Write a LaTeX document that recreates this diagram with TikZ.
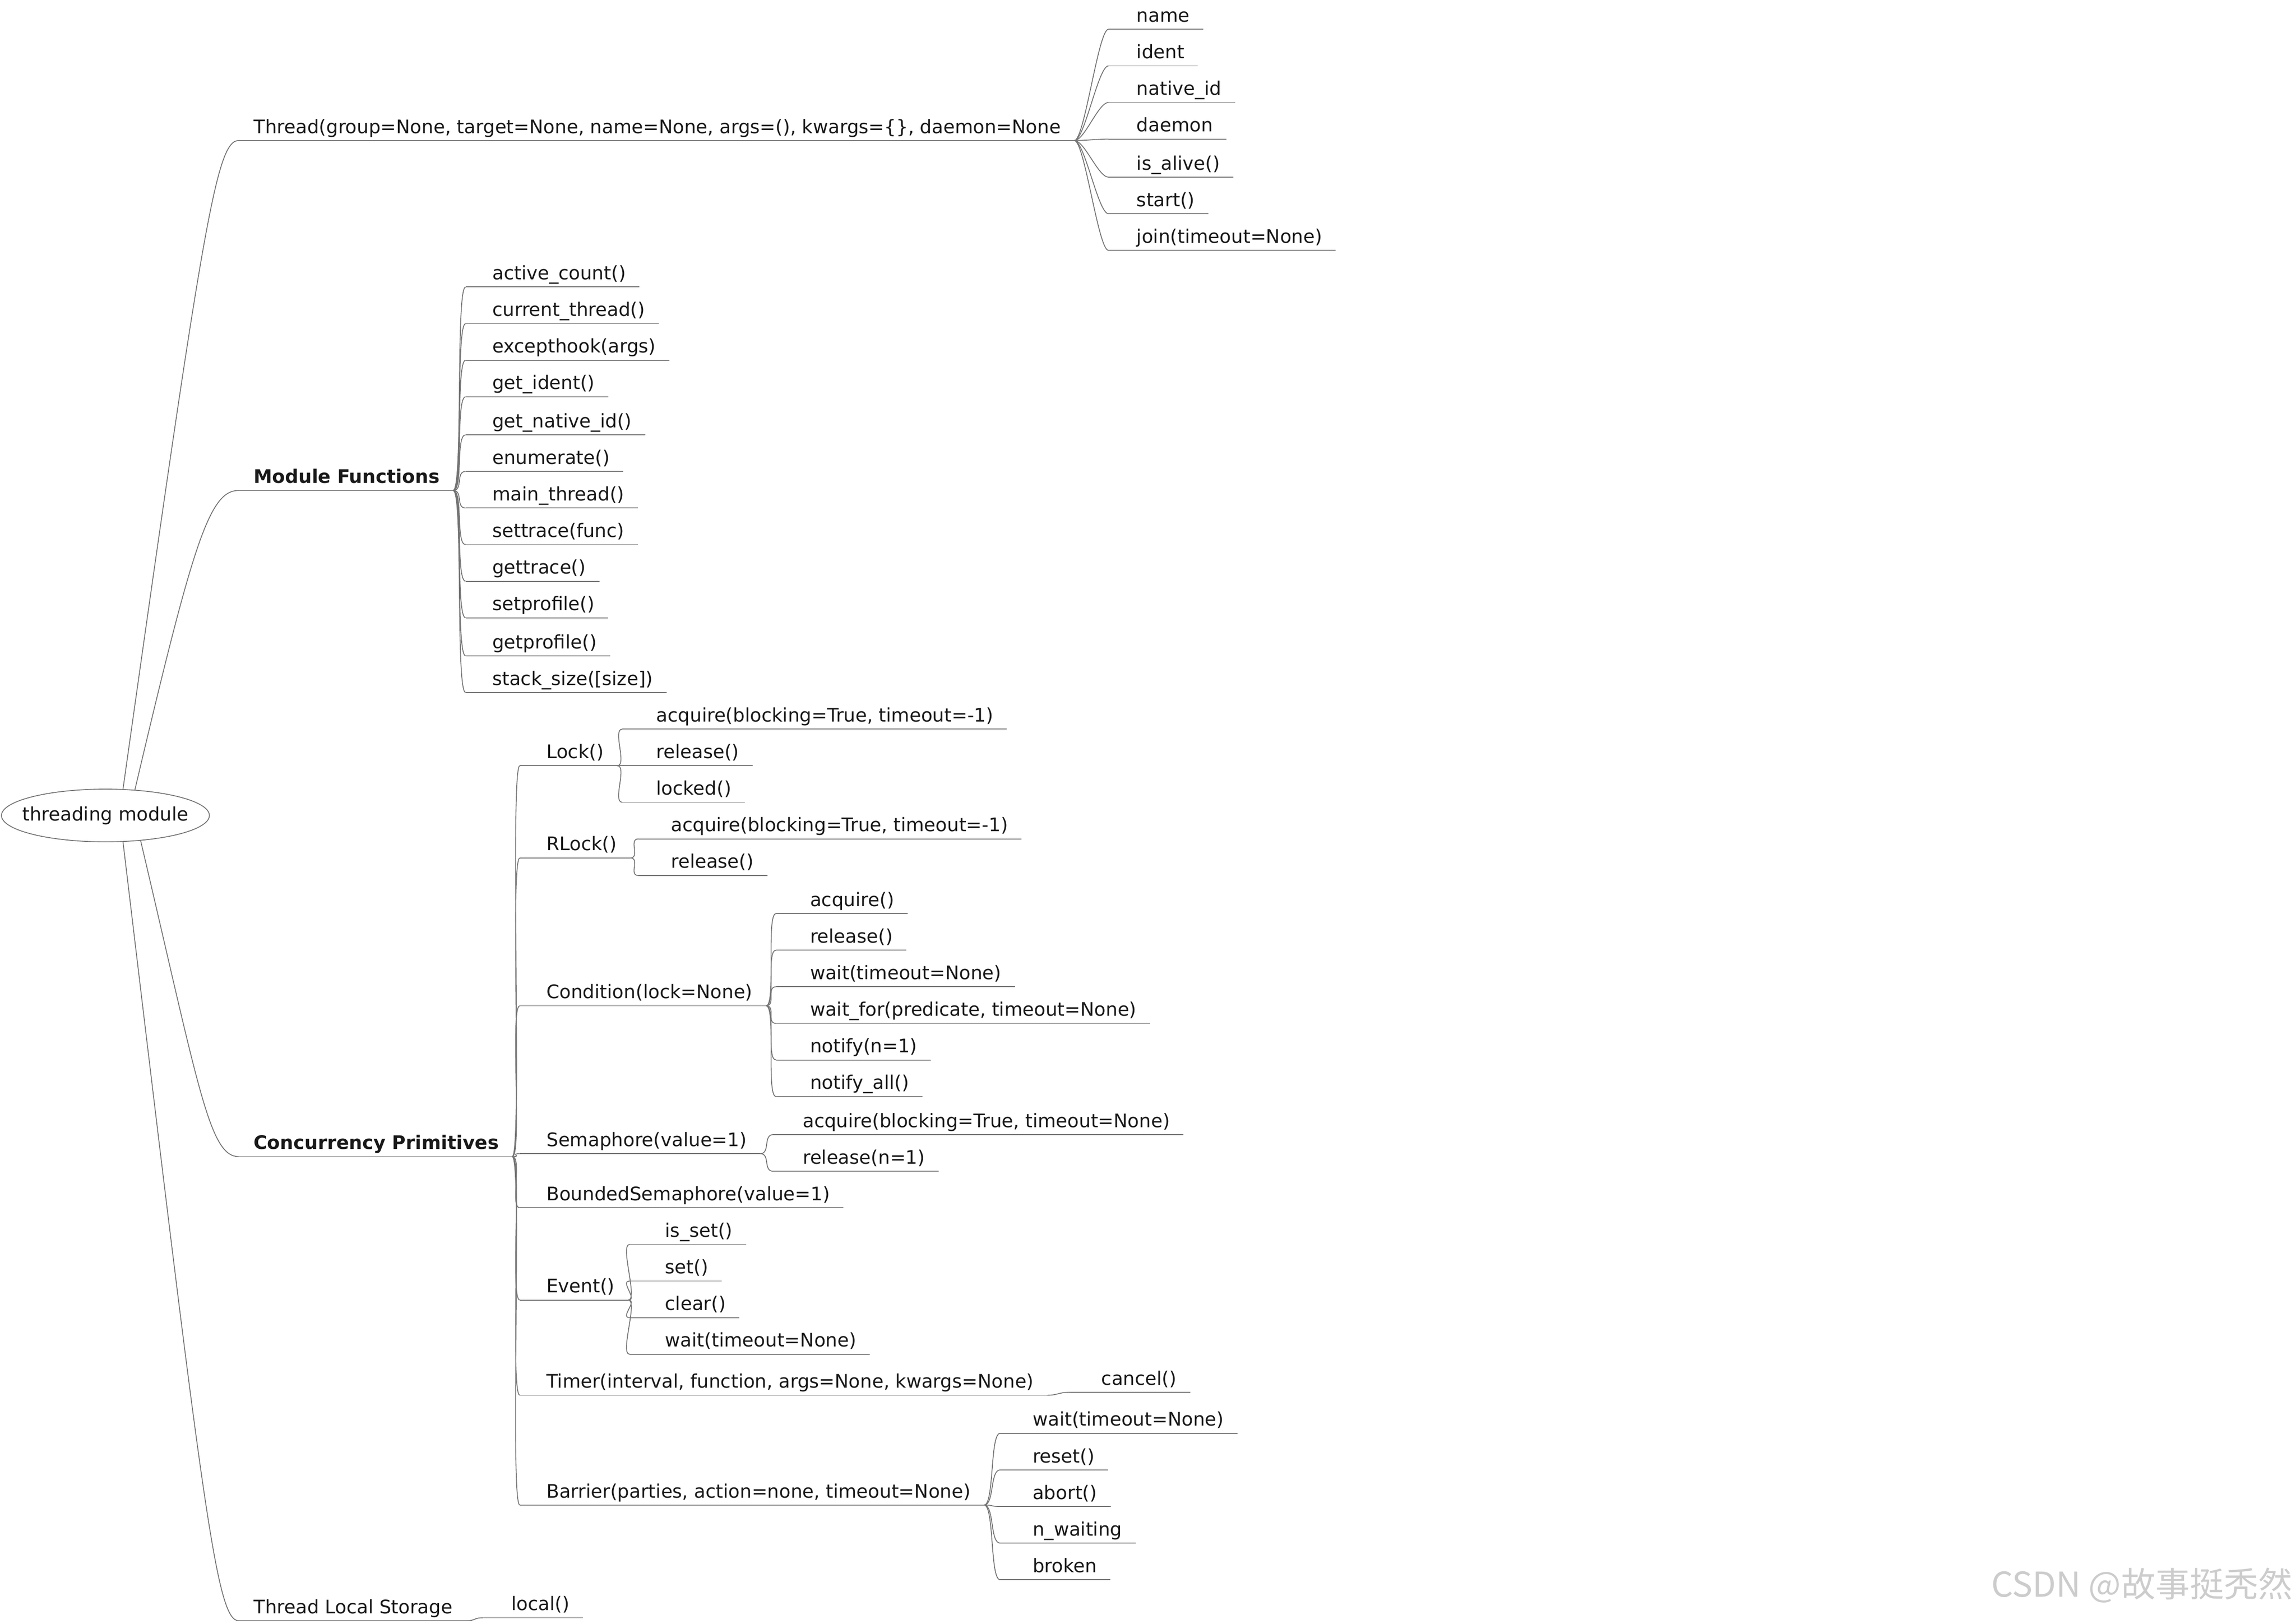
\documentclass[tikz,border=0pt]{standalone}
\usepackage{fontspec}
\setmainfont{DejaVu Sans}
\newfontfamily\cjk{Noto Sans CJK SC}
\usetikzlibrary{calc,shapes.geometric}
\tikzset{
  lbl/.style={inner sep=0pt, anchor=base west, font=\fontsize{10.9}{12}\selectfont, text=black!90},
  blbl/.style={lbl, font=\fontsize{10.9}{12}\selectfont\bfseries},
  ln/.style={draw=black!55, line width=0.5pt},
}
\newcommand\leaf[6][lbl]{%
  \node[#1] (#2) at (#4,#5-5) {#6};
  \coordinate (#2s) at (#3,#5);
  \coordinate (#2e) at ($(#2.base east)+(9,5)$);
  \draw[ln] (#2s) -- (#2e);}
\newcommand\link[2]{\draw[ln] (#1e) .. controls +(7,0) and +(-7,0) .. (#2s);}
\begin{document}
\begin{tikzpicture}[x=0.3mm,y=-0.3mm]
\useasboundingbox (0,0) rectangle (1568,1109);
\node[inner sep=0pt, font=\fontsize{10.9}{12}\selectfont, text=black!90] (root) at (72,557) {threading module};
\draw[ln] (root.center) ellipse[x radius=71, y radius=18];
\coordinate (r1) at (84,539);
\coordinate (r2) at (92,540);
\coordinate (r3) at (96,574);
\coordinate (r4) at (84,575);
% Thread
\leaf{thr}{163}{173}{96}{Thread(group=None, target=None, name=None, args=(), kwargs=\{\}, daemon=None}
\draw[ln] (r1) .. controls +(55,-390) and +(-15,0) .. (thrs);
\foreach \n/\y/\t in {a/20/name,b/45/ident,c/70/native\_id,d/95/daemon,e/121/is\_alive(),f/146/start(),g/171/join(timeout=None)}{
  \leaf{tq\n}{757}{776}{\y}{\t}\link{thr}{tq\n}}
% Module functions
\leaf[blbl]{mf}{163}{173}{335}{Module Functions}
\draw[ln] (r2) .. controls +(40,-170) and +(-20,0) .. (mfs);
\foreach \n/\y/\t in {a/196/active\_count(),b/221/current\_thread(),c/246/excepthook(args),d/271/get\_ident(),e/297/get\_native\_id(),f/322/enumerate(),g/347/main\_thread(),h/372/settrace(func),i/397/gettrace(),j/422/setprofile(),k/448/getprofile(),l/473/stack\_size([size])}{
  \leaf{mq\n}{318}{336}{\y}{\t}\link{mf}{mq\n}}
% Concurrency
\leaf[blbl]{cp}{163}{173}{790}{Concurrency Primitives}
\draw[ln] (r3) .. controls +(40,170) and +(-20,0) .. (cps);
\leaf{lock}{355}{373}{523}{Lock()}\link{cp}{lock}
\leaf{lka}{425}{448}{498}{acquire(blocking=True, timeout=-1)}\link{lock}{lka}
\leaf{lkb}{425}{448}{523}{release()}\link{lock}{lkb}
\leaf{lkc}{425}{448}{548}{locked()}\link{lock}{lkc}
\leaf{rl}{355}{373}{586}{RLock()}\link{cp}{rl}
\leaf{rla}{436}{458}{573}{acquire(blocking=True, timeout=-1)}\link{rl}{rla}
\leaf{rlb}{436}{458}{598}{release()}\link{rl}{rlb}
\leaf{co}{355}{373}{687}{Condition(lock=None)}\link{cp}{co}
\foreach \n/\y/\t in {a/624/acquire(),b/649/release(),c/674/wait(timeout=None),d/699/{wait\_for(predicate, timeout=None)},e/724/notify(n=1),f/749/notify\_all()}{
  \leaf{cq\n}{530}{553}{\y}{\t}\link{co}{cq\n}}
\leaf{se}{355}{373}{788}{Semaphore(value=1)}\link{cp}{se}
\leaf{sea}{528}{548}{775}{acquire(blocking=True, timeout=None)}\link{se}{sea}
\leaf{seb}{528}{548}{800}{release(n=1)}\link{se}{seb}
\leaf{bs}{355}{373}{825}{BoundedSemaphore(value=1)}\link{cp}{bs}
\leaf{ev}{355}{373}{888}{Event()}\link{cp}{ev}
\foreach \n/\y/\t in {a/850/is\_set(),b/875/set(),c/900/clear(),d/925/wait(timeout=None)}{
  \leaf{eq\n}{430}{454}{\y}{\t}\link{ev}{eq\n}}
\leaf{ti}{355}{373}{953}{Timer(interval, function, args=None, kwargs=None)}\link{cp}{ti}
\leaf{tic}{730}{752}{951}{cancel()}\link{ti}{tic}
\leaf{bar}{355}{373}{1028}{Barrier(parties, action=none, timeout=None)}\link{cp}{bar}
\foreach \n/\y/\t in {a/979/wait(timeout=None),b/1004/reset(),c/1029/abort(),d/1054/n\_waiting,e/1079/broken}{
  \leaf{bq\n}{683}{705}{\y}{\t}\link{bar}{bq\n}}
% TLS
\leaf{tls}{163}{173}{1107}{Thread Local Storage}
\draw[ln] (r4) .. controls +(55,460) and +(-15,0) .. (tlss);
\leaf{lo}{330}{349}{1105}{local()}\link{tls}{lo}
\node[anchor=east, inner sep=0pt, text=black!20, font=\cjk\fontsize{20}{24}\selectfont] (wm) at (1566,1083) {CSDN @故事挺秃然};
\end{tikzpicture}
\end{document}
